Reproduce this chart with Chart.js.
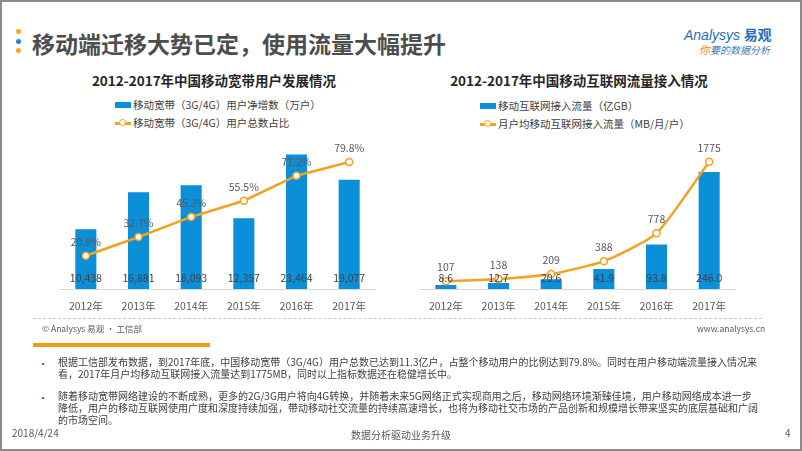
<!DOCTYPE html>
<html><head><meta charset="utf-8">
<script src="https://cdn.jsdelivr.net/npm/chart.js@4/dist/chart.umd.min.js"></script>
<style>
html,body{margin:0;padding:0;background:#fff;}
body{width:802px;height:451px;overflow:hidden;font-family:"Noto Sans CJK SC","Noto Sans",sans-serif;}
#slide{position:absolute;left:0;top:0;width:802px;height:451px;box-sizing:border-box;border:2px solid #8a8a8a;}
.abs{position:absolute;white-space:nowrap;}
.dot{position:absolute;width:5px;height:5px;border-radius:50%;}
.ctitle{position:absolute;font-weight:bold;font-size:13.5px;color:#262626;transform:translate(-50%,-50%);white-space:nowrap;}
.leg{position:absolute;font-size:10.5px;color:#404040;white-space:nowrap;line-height:14px;}
.legbox{display:inline-block;width:16px;height:6px;background:#0a8fd8;vertical-align:middle;margin-right:2px;position:relative;top:-1px;}
.legline{display:inline-block;width:16px;height:10px;vertical-align:middle;margin-right:2px;position:relative;top:-1px;}
.legline:before{content:"";position:absolute;left:0;top:4px;width:16px;height:2.5px;background:#f5a01e;}
.legline:after{content:"";position:absolute;left:4px;top:1px;width:5px;height:5px;border:1.5px solid #f5a01e;background:#fff;border-radius:50%;}
.body{position:absolute;left:58px;font-size:10px;color:#404040;line-height:12px;white-space:nowrap;}
.bul{position:absolute;left:38px;font-size:10px;color:#404040;}
</style></head>
<body>
<div id="slide"></div>
<div class="dot" style="left:16px;top:29px;background:#f5a623"></div>
<div class="dot" style="left:16px;top:39px;background:#1a8ad6"></div>
<div class="dot" style="left:16px;top:48px;background:#f5a623"></div>
<div class="abs" style="left:32px;top:29px;font-size:23px;font-weight:bold;color:#4d4d4d;line-height:28px;">移动端迁移大势已定，使用流量大幅提升</div>
<div class="abs" style="left:684px;top:24px;line-height:18px;"><span style="font-family:'Liberation Sans',sans-serif;font-style:italic;font-size:14px;color:#1f6fb8;">Analysys</span> <span style="font-size:14px;font-weight:bold;color:#1f6fb8;">易观</span></div>
<div class="abs" style="left:699px;top:43px;font-size:10px;font-style:italic;color:#4a7db8;line-height:12px;"><span style="color:#f08a24;font-size:11px;">你</span>要的数据分析</div>

<div class="ctitle" style="left:214px;top:80px;">2012-2017年中国移动宽带用户发展情况</div>
<div class="ctitle" style="left:579px;top:80px;">2012-2017年中国移动互联网流量接入情况</div>

<div class="leg" style="left:115px;top:98px;"><span class="legbox"></span>移动宽带（3G/4G）用户净增数（万户）</div>
<div class="leg" style="left:115px;top:116px;"><span class="legline"></span>移动宽带（3G/4G）用户总数占比</div>
<div class="leg" style="left:480px;top:99px;"><span class="legbox"></span>移动互联网接入流量（亿GB）</div>
<div class="leg" style="left:480px;top:117px;"><span class="legline"></span>月户均移动互联网接入流量（MB/月/户）</div>

<canvas id="c1" style="position:absolute;left:54px;top:130px;"></canvas>
<canvas id="c2" style="position:absolute;left:414px;top:130px;"></canvas>

<div style="position:absolute;left:33px;top:318px;width:729px;border-top:1px dashed #c8c8c8;"></div>
<div class="abs" style="left:42px;top:322px;font-size:8.5px;color:#595959;line-height:12px;">© Analysys 易观 · 工信部</div>
<div class="abs" style="left:697px;top:322px;font-size:8.5px;color:#595959;line-height:12px;">www.analysys.cn</div>
<div style="position:absolute;left:33px;top:343px;width:177px;height:4px;background:#f39c12;"></div>

<div class="bul" style="top:356px;">•</div>
<div class="body" style="top:356px;">根据工信部发布数据，到2017年底，中国移动宽带（3G/4G）用户总数已达到11.3亿户，占整个移动用户的比例达到79.8%。同时在用户移动端流量接入情况来<br>看，2017年月户均移动互联网接入流量达到1775MB，同时以上指标数据还在稳健增长中。</div>
<div class="bul" style="top:390px;">•</div>
<div class="body" style="top:390px;">随着移动宽带网络建设的不断成熟，更多的2G/3G用户将向4G转换，并随着未来5G网络正式实现商用之后，移动网络环境渐臻佳境，用户移动网络成本进一步<br>降低，用户的移动互联网使用广度和深度持续加强，带动移动社交流量的持续高速增长，也将为移动社交市场的产品创新和规模增长带来坚实的底层基础和广阔<br>的市场空间。</div>

<div class="abs" style="left:12px;top:427px;font-size:10px;color:#595959;line-height:12px;">2018/4/24</div>
<div class="abs" style="left:401px;top:429px;transform:translateX(-50%);font-size:10px;color:#595959;line-height:12px;">数据分析驱动业务升级</div>
<div class="abs" style="left:785px;top:427px;font-size:10px;color:#595959;line-height:12px;">4</div>

<script>
// ---- data ----
const years = ['2012年','2013年','2014年','2015年','2016年','2017年'];
const netAdds = [10438, 16881, 18093, 12357, 23464, 19077];          // 万户
const shareOfUsers = [20.9, 32.7, 45.3, 55.5, 71.2, 79.8];            // %
const trafficTotal = [8.6, 12.7, 20.6, 41.9, 93.8, 246.0];            // 亿GB
const trafficPerUser = [107, 138, 209, 388, 778, 1775];               // MB/月/户

const BLUE = '#0a8fd8';
const ORANGE = '#f5a01e';
const FONT = '"Noto Sans CJK SC", "Noto Sans", sans-serif';

const valueLabels = {
  id: 'valueLabels',
  afterDatasetsDraw(chart) {
    const ctx = chart.ctx;
    ctx.save();
    ctx.font = '10.5px ' + FONT;
    ctx.textAlign = 'center';
    ctx.textBaseline = 'middle';
    chart.data.datasets.forEach((ds, i) => {
      const meta = chart.getDatasetMeta(i);
      meta.data.forEach((el, j) => {
        const txt = ds.fmt(ds.data[j]);
        if (ds.type === 'bar') {
          ctx.fillStyle = '#404040';
          ctx.fillText(txt, el.x, chart.chartArea.bottom - 11);
        } else {
          ctx.fillStyle = '#595959';
          ctx.fillText(txt, el.x, el.y - 14);
        }
      });
    });
    ctx.restore();
  }
};

function makeChart(id, barData, barFmt, barMax, lineData, lineFmt, lineMax, tension) {
  const cv = document.getElementById(id);
  cv.width = 327; cv.height = 189;
  return new Chart(cv, {
    data: {
      labels: years,
      datasets: [
        {type: 'line', data: lineData, yAxisID: 'y1', order: 1, fmt: lineFmt,
         borderColor: ORANGE, borderWidth: 2.5, tension: tension,
         pointRadius: 3.5, pointBorderWidth: 1.5, pointBackgroundColor: '#fff', pointBorderColor: ORANGE},
        {type: 'bar', data: barData, yAxisID: 'y', order: 2, fmt: barFmt,
         backgroundColor: BLUE, barPercentage: 0.4, categoryPercentage: 1}
      ]
    },
    options: {
      responsive: false, animation: false,
      layout: {padding: 0},
      plugins: {legend: {display: false}, tooltip: {enabled: false}},
      scales: {
        x: {grid: {display: false, drawTicks: false}, border: {display: true, color: '#d9d9d9', width: 1},
            ticks: {color: '#595959', font: {size: 10.5, family: FONT}, padding: 11, maxRotation: 0},
            afterFit: s => { s.height = 30; }},
        y: {display: false, min: 0, max: barMax},
        y1: {display: false, min: 0, max: lineMax, position: 'right'}
      }
    },
    plugins: [valueLabels]
  });
}

makeChart('c1', netAdds, v => v.toLocaleString('en-US'), 26800,
          shareOfUsers, v => v.toFixed(1) + '%', 96.5, 0);
makeChart('c2', trafficTotal, v => v.toFixed(1), 323,
          trafficPerUser, v => String(v), 2140, 0.2);
</script>
</body></html>
